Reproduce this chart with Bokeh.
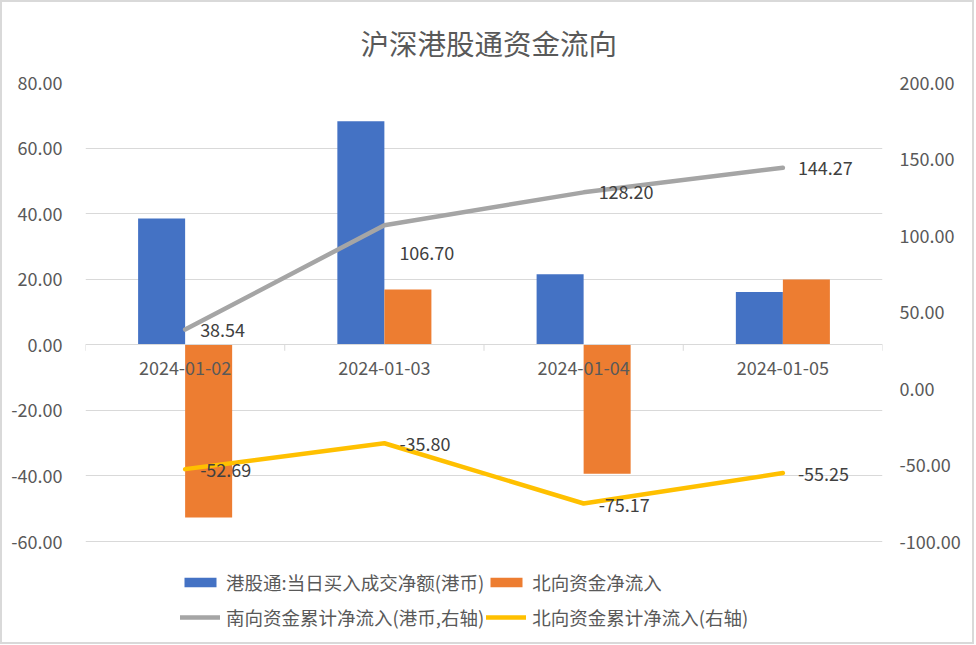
import math
from bokeh.plotting import figure
from bokeh.models import (FactorRange, Range1d, LinearAxis, FixedTicker, PrintfTickFormatter,
                          ColumnDataSource, Legend, LegendItem, Title)
from bokeh.transform import dodge
from bokeh.core.properties import value
from bokeh.embed import file_html
from bokeh.resources import INLINE

# ---------------- data ----------------
chart_title = "沪深港股通资金流向"
dates = ["2024-01-02", "2024-01-03", "2024-01-04", "2024-01-05"]
south_daily = [38.54, 68.16, 21.50, 16.07]      # 港股通:当日买入成交净额(港币)
north_daily = [-52.69, 16.89, -39.37, 19.92]    # 北向资金净流入
south_cum = [38.54, 106.70, 128.20, 144.27]     # 南向资金累计净流入(港币,右轴)
north_cum = [-52.69, -35.80, -75.17, -55.25]    # 北向资金累计净流入(右轴)
left_ticks = [-60, -40, -20, 0, 20, 40, 60, 80]
right_ticks = [-100, -50, 0, 50, 100, 150, 200]
series_names = ["港股通:当日买入成交净额(港币)", "北向资金净流入",
                "南向资金累计净流入(港币,右轴)", "北向资金累计净流入(右轴)"]

# ---------------- styles / layout ----------------
FONT = "Noto Sans CJK SC"
C_BLUE, C_ORANGE, C_GRAY, C_YELLOW = "#4472c4", "#ed7d31", "#a5a5a5", "#ffc000"
TXT = "#595959"
LBL = "#404040"
GRID = "#d9d9d9"
gray_label_dy = [0, 28, 0, 0]
yellow_label_dy = [1, 1, 1, 1]

PLOT_W, PLOT_H = 797, 459     # axis area in pixels
LEGEND_H = 101                # room kept under the axis area for the legend
lo_l = left_ticks[0] - LEGEND_H * (left_ticks[-1] - left_ticks[0]) / PLOT_H
lo_r = right_ticks[0] - LEGEND_H * (right_ticks[-1] - right_ticks[0]) / PLOT_H

src = ColumnDataSource(dict(
    date=dates, south_daily=south_daily, north_daily=north_daily,
    south_cum=south_cum, north_cum=north_cum,
    south_lbl=[f"{v:.2f}" for v in south_cum],
    north_lbl=[f"{v:.2f}" for v in north_cum],
    gdy=gray_label_dy, ydy=yellow_label_dy,
))
bnd = ColumnDataSource(dict(date=dates))
bnd_last = ColumnDataSource(dict(date=dates[-1:]))

p = figure(x_range=FactorRange(*dates, range_padding=0), y_range=Range1d(lo_l, left_ticks[-1]),
           frame_width=PLOT_W, frame_height=PLOT_H + LEGEND_H, output_backend="svg", toolbar_location=None,
           min_border_left=83, min_border_right=90, min_border_top=80, min_border_bottom=0,
           background_fill_color="white", border_fill_color="white")
p.styles = {"border": "2px solid #d9d9d9"}
p.outline_line_color = None
p.extra_y_ranges = {"right": Range1d(lo_r, right_ticks[-1])}

p.title = Title(text=chart_title, align="left", offset=275, vertical_align="top", standoff=36,
                text_font_size="28.5px", text_color=TXT, text_font=FONT, text_font_style="normal")

# left axis
ya = p.yaxis[0]
ya.ticker = FixedTicker(ticks=left_ticks)
ya.formatter = PrintfTickFormatter(format="%.2f")
# right axis
ra = LinearAxis(y_range_name="right", ticker=FixedTicker(ticks=right_ticks),
                formatter=PrintfTickFormatter(format="%.2f"))
p.add_layout(ra, "right")
for ax, so in ((ya, 23), (ra, 17)):
    ax.axis_line_color = None
    ax.major_tick_line_color = None
    ax.minor_tick_line_color = None
    ax.major_tick_out = 0
    ax.major_tick_in = 0
    ax.major_label_standoff = so
    ax.major_label_text_font = FONT
    ax.major_label_text_font_size = "18px"
    ax.major_label_text_color = TXT

# category axis drawn at y = 0
xa = p.xaxis[0]
xa.fixed_location = 0
xa.axis_line_color = GRID
xa.axis_line_width = 1
xa.major_tick_line_color = None
xa.major_tick_out = 0
xa.major_tick_in = 0
xa.major_label_standoff = 16
xa.major_label_text_font = FONT
xa.major_label_text_font_size = "18px"
xa.major_label_text_color = TXT

p.xgrid.grid_line_color = None
p.ygrid.ticker = FixedTicker(ticks=left_ticks)
p.ygrid.grid_line_color = GRID
p.ygrid.grid_line_width = 1

# category boundary ticks
p.ray(x=dodge("date", -0.5, range=p.x_range), y=0, length=6, length_units="screen",
      angle=-math.pi / 2, line_color=GRID, line_width=1, source=bnd)
p.ray(x=dodge("date", 0.5, range=p.x_range), y=0, length=6, length_units="screen",
      angle=-math.pi / 2, line_color=GRID, line_width=1, source=bnd_last)

# bars
r1 = p.vbar(x=dodge("date", -0.118, range=p.x_range), top="south_daily", width=0.236,
            fill_color=C_BLUE, line_color=None, source=src)
r2 = p.vbar(x=dodge("date", 0.118, range=p.x_range), top="north_daily", width=0.236,
            fill_color=C_ORANGE, line_color=None, source=src)
# lines
r3 = p.line(x="date", y="south_cum", y_range_name="right", line_color=C_GRAY, line_width=4.5,
            line_cap="round", line_join="round", source=src)
r4 = p.line(x="date", y="north_cum", y_range_name="right", line_color=C_YELLOW, line_width=4.5,
            line_cap="round", line_join="round", source=src)

# data labels
p.text(x="date", y="south_cum", text="south_lbl", y_range_name="right", x_offset=15, y_offset="gdy",
       text_align="left", text_baseline="middle", text_font=value(FONT), text_font_size="18px",
       text_color=LBL, source=src)
p.text(x="date", y="north_cum", text="north_lbl", y_range_name="right", x_offset=15, y_offset="ydy",
       text_align="left", text_baseline="middle", text_font=value(FONT), text_font_size="18px",
       text_color=LBL, source=src)

legend = Legend(items=[LegendItem(label=series_names[0], renderers=[r1]),
                       LegendItem(label=series_names[1], renderers=[r2]),
                       LegendItem(label=series_names[2], renderers=[r3]),
                       LegendItem(label=series_names[3], renderers=[r4])],
                orientation="horizontal", ncols=2, location=(95, 9),
                glyph_width=40, glyph_height=12, label_standoff=6, label_height=33, spacing=2,
                padding=0, margin=0, border_line_color=None, background_fill_alpha=0,
                label_text_font=FONT, label_text_font_size="18.5px", label_text_color=TXT)
p.add_layout(legend, "center")

open("out.html", "w").write(file_html(p, INLINE))
